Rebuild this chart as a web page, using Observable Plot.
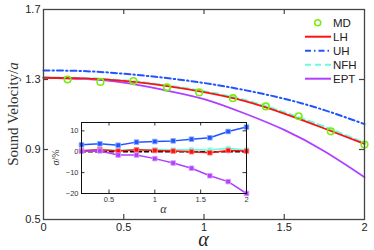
<!DOCTYPE html>
<html>
<head>
<meta charset="utf-8">
<script src="https://cdn.jsdelivr.net/npm/d3@7"></script>
<script src="https://cdn.jsdelivr.net/npm/@observablehq/plot@0.6"></script>
<style>
  html, body { margin: 0; padding: 0; background: white; }
  #wrap { position: relative; width: 374px; height: 250px; overflow: hidden; }
  #wrap > svg, #wrap > figure { position: absolute; margin: 0; }
</style>
</head>
<body>
<div id="wrap"></div>
<script>
// ---------- main panel data ----------
const curveX = [0, 0.25, 0.5, 0.75, 1, 1.25, 1.5, 1.75, 2];
const LH  = [1.310, 1.306, 1.292, 1.265, 1.228, 1.178, 1.105, 1.020, 0.932];
const NFH = [1.312, 1.308, 1.295, 1.269, 1.233, 1.184, 1.113, 1.030, 0.937];
const UH  = [1.352, 1.348, 1.333, 1.310, 1.280, 1.240, 1.190, 1.125, 1.045];
const EPT = [1.310, 1.303, 1.282, 1.240, 1.188, 1.107, 1.012, 0.890, 0.742];
const mdX = [0.15, 0.355, 0.56, 0.77, 0.97, 1.18, 1.385, 1.59, 1.79, 2.0];
const mdY = [1.300, 1.286, 1.291, 1.255, 1.226, 1.193, 1.146, 1.090, 1.004, 0.928];
const xTicks = [0, 0.5, 1, 1.5, 2];
const yTicks = [0.5, 0.9, 1.3, 1.7];

// ---------- inset data ----------
const errX   = [0.2, 0.4, 0.6, 0.8, 1.0, 1.2, 1.4, 1.6, 1.8, 2.0];
const UHerr  = [3.3, 3.8, 3.1, 4.6, 4.9, 5.2, 6.0, 6.7, 9.7, 11.8];
const EPTerr = [0.2, 0.4, -1.6, -1.6, -3.3, -5.4, -7.9, -11.5, -14.3, -20];
const LHerr  = [0.5, 1.0, 0.3, 0.9, 0.6, 0.3, 0.0, -0.5, 0.6, 0.3];
const NFHerr = [0.6, 1.1, 0.7, 1.0, 1.0, 0.9, 1.0, 0.8, 1.6, 0.8];
const zeroRef = [0, 0, 0, 0, 0, 0, 0, 0, 0, 0];
const ixTicks = [0.5, 1, 1.5, 2];
const iyTicks = [10, 0, -10, -20];

const C = {MD: "#77ee11", LH: "#ff1111", UH: "#2255ff", NFH: "#66ffdd", EPT: "#b040ff"};
const C2 = {LH: "#ff8888", UH: "#88aaff", NFH: "#bbfff0", EPT: "#d9a0ff"};

const mk = (xs, ys) => xs.map((x, i) => ({x, y: ys[i]}));

// ---------- main plot ----------
const W = 374, H = 250, mT = 9, mB = 31, mL = 43, mR = 10;
const ph = H - mT - mB, pw = W - mL - mR;
const main = Plot.plot({
  width: W, height: H,
  marginTop: mT, marginBottom: mB, marginLeft: mL, marginRight: mR,
  x: {domain: [0, 2]},
  y: {domain: [0.5, 1.7]},
  style: {fontFamily: "'Liberation Sans', Arial, sans-serif", fontSize: "11px", color: "#222", background: "white"},
  marks: [
    Plot.axisX(xTicks, {tickSize: 0, tickPadding: 4, label: null, fontSize: 11, tickFormat: d => String(d)}),
    Plot.axisY(yTicks, {tickSize: 0, tickPadding: 3, label: null, fontSize: 11, tickFormat: d => d.toFixed(1)}),
    Plot.tickX(xTicks.slice(1, -1), {x: d => d, insetTop: ph - 5, stroke: "#444", strokeWidth: 1.2}),
    Plot.tickX(xTicks.slice(1, -1), {x: d => d, insetBottom: ph - 5, stroke: "#444", strokeWidth: 1.2}),
    Plot.tickY(yTicks.slice(1, -1), {y: d => d, insetRight: pw - 5, stroke: "#444", strokeWidth: 1.2}),
    Plot.tickY(yTicks.slice(1, -1), {y: d => d, insetLeft: pw - 5, stroke: "#444", strokeWidth: 1.2}),
    Plot.line(mk(curveX, EPT), {x: "x", y: "y", stroke: C.EPT, strokeWidth: 1.8, curve: "natural"}),
    Plot.line(mk(curveX, UH), {x: "x", y: "y", stroke: C.UH, strokeWidth: 2, strokeDasharray: "6,3,1.5,3", curve: "natural"}),
    Plot.line(mk(curveX, NFH), {x: "x", y: "y", stroke: C.NFH, strokeWidth: 2.2, strokeDasharray: "6,4", curve: "natural"}),
    Plot.line(mk(curveX, LH), {x: "x", y: "y", stroke: C.LH, strokeWidth: 1.8, curve: "natural"}),
    Plot.dot(mk(mdX, mdY), {x: "x", y: "y", r: 3.3, stroke: C.MD, strokeWidth: 1.6, fill: "none"}),
    Plot.frame({stroke: "#444", strokeWidth: 1.3})
  ]
});
main.style.left = "0px"; main.style.top = "0px";
document.getElementById("wrap").appendChild(main);

// axis titles and legend (decorations)
const ms = d3.select(main);
const yl = ms.append("text")
  .attr("transform", `translate(18,${mT + ph / 2}) rotate(-90)`)
  .attr("text-anchor", "middle")
  .attr("font-family", "'Liberation Serif', 'Times New Roman', serif")
  .attr("font-size", 15).attr("fill", "#333");
yl.append("tspan").text("Sound Velocity/");
yl.append("tspan").attr("font-style", "italic").text("a");
ms.append("text")
  .attr("x", mL + pw / 2).attr("y", 246)
  .attr("text-anchor", "middle")
  .attr("font-family", "'Liberation Serif', 'Times New Roman', serif")
  .attr("font-style", "italic").attr("font-size", 20).attr("fill", "#222")
  .text("α");

const legend = [
  {name: "MD", color: C.MD, type: "dot"},
  {name: "LH", color: C.LH, dash: null},
  {name: "UH", color: C.UH, dash: "6,3,1.5,3"},
  {name: "NFH", color: C.NFH, dash: "6,4"},
  {name: "EPT", color: C.EPT, dash: null}
];
const lg = ms.append("g")
  .attr("font-family", "'Liberation Sans', Arial, sans-serif")
  .attr("font-size", 11.5).attr("text-anchor", "start");
legend.forEach((d, i) => {
  const y = 22.7 + i * 14;
  if (d.type === "dot") {
    lg.append("circle").attr("cx", 317.7).attr("cy", y).attr("r", 3).attr("fill", "none")
      .attr("stroke", d.color).attr("stroke-width", 1.6);
  } else {
    lg.append("line").attr("x1", 305).attr("x2", 331).attr("y1", y).attr("y2", y)
      .attr("stroke", d.color).attr("stroke-width", 2).attr("stroke-dasharray", d.dash);
  }
  lg.append("text").attr("x", 333).attr("y", y).attr("dy", "0.36em")
    .attr("text-anchor", "start").attr("fill", "#222").text(d.name);
});

// ---------- inset plot ----------
const iW = 200, iH = 100, iT = 6, iB = 23, iL = 31, iR = 4;
const iph = iH - iT - iB, ipw = iW - iL - iR;
const inset = Plot.plot({
  width: iW, height: iH,
  marginTop: iT, marginBottom: iB, marginLeft: iL, marginRight: iR,
  x: {domain: [0.2, 2]},
  y: {domain: [-20, 14]},
  style: {fontFamily: "'Liberation Sans', Arial, sans-serif", fontSize: "7.5px", color: "#333", background: "transparent", overflow: "visible"},
  marks: [
    Plot.frame({fill: "white", stroke: "none"}),
    Plot.axisX(ixTicks, {tickSize: 0, tickPadding: 3, label: null, fontSize: 7.5, tickFormat: d => String(d)}),
    Plot.axisY(iyTicks, {tickSize: 0, tickPadding: 3, label: null, fontSize: 7.5}),
    Plot.tickX(ixTicks.slice(0, -1), {x: d => d, insetTop: iph - 3.5, stroke: "#333"}),
    Plot.tickX(ixTicks.slice(0, -1), {x: d => d, insetBottom: iph - 3.5, stroke: "#333"}),
    Plot.tickY(iyTicks.slice(0, -1), {y: d => d, insetRight: ipw - 3.5, stroke: "#333"}),
    Plot.tickY(iyTicks.slice(0, -1), {y: d => d, insetLeft: ipw - 3.5, stroke: "#333"}),
    Plot.line(mk(errX, NFHerr), {x: "x", y: "y", stroke: C.NFH, strokeWidth: 1.6}),
    Plot.dot(mk(errX, NFHerr), {x: "x", y: "y", symbol: "square", r: 2.6, fill: C.NFH, stroke: C2.NFH, strokeWidth: 0.8}),
    Plot.line(mk(errX, zeroRef), {x: "x", y: "y", stroke: "black", strokeWidth: 1.6, strokeDasharray: "4,3"}),
    Plot.line(mk(errX, LHerr), {x: "x", y: "y", stroke: C.LH, strokeWidth: 1.5}),
    Plot.dot(mk(errX, LHerr), {x: "x", y: "y", symbol: "square", r: 2.6, fill: C.LH, stroke: C2.LH, strokeWidth: 0.8}),
    Plot.line(mk(errX, EPTerr), {x: "x", y: "y", stroke: C.EPT, strokeWidth: 1.5}),
    Plot.dot(mk(errX, EPTerr), {x: "x", y: "y", symbol: "square", r: 2.6, fill: C.EPT, stroke: C2.EPT, strokeWidth: 0.8}),
    Plot.line(mk(errX, UHerr), {x: "x", y: "y", stroke: C.UH, strokeWidth: 1.5}),
    Plot.dot(mk(errX, UHerr), {x: "x", y: "y", symbol: "square", r: 2.6, fill: C.UH, stroke: C2.UH, strokeWidth: 0.8}),
    Plot.frame({stroke: "#111", strokeWidth: 1})
  ]
});
inset.style.left = "50px"; inset.style.top = "116px";
document.getElementById("wrap").appendChild(inset);

const is = d3.select(inset);
const sl = is.append("text")
  .attr("transform", `translate(9,${iT + iph / 2}) rotate(-90)`)
  .attr("text-anchor", "middle")
  .attr("font-family", "'Liberation Serif', 'Times New Roman', serif")
  .attr("font-size", 10).attr("fill", "#333");
sl.append("tspan").attr("font-style", "italic").text("σ");
sl.append("tspan").text("/%");
is.append("text")
  .attr("x", iL + ipw / 2).attr("y", 97)
  .attr("text-anchor", "middle")
  .attr("font-family", "'Liberation Serif', 'Times New Roman', serif")
  .attr("font-style", "italic").attr("font-size", 12).attr("fill", "#333")
  .text("α");
</script>
</body>
</html>
